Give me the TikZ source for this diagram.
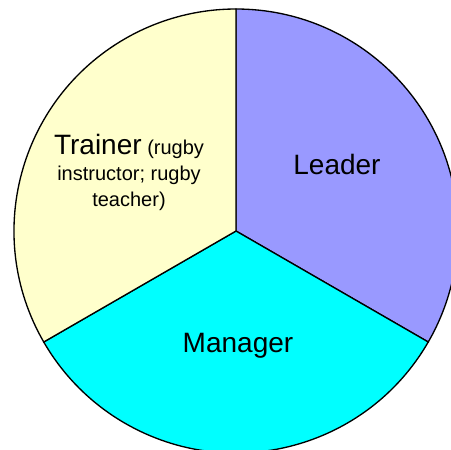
\documentclass[tikz,border=0pt]{standalone}
\usepackage{fontspec}
\setmainfont{Liberation Sans}
\usepackage{tikz}
\tikzset{every picture/.style={line width=0.75pt}}
\tikzset{
  slice/.style={draw=black, line width=1pt},
  biglabel/.style={inner sep=0.75pt, font=\fontsize{21}{25}\selectfont},
  smalllabel/.style={inner sep=0.75pt, align=center, font=\fontsize{15}{19.5}\selectfont}
}
\definecolor{leaderblue}{RGB}{153,153,255}
\definecolor{managercyan}{RGB}{0,255,255}
\definecolor{traineryellow}{RGB}{255,255,204}

\begin{document}
\begin{tikzpicture}[x=0.75pt,y={(0,-0.75pt)}]
\useasboundingbox (0,0) rectangle (451,450);
\coordinate (centre) at (236,231);

%Shape: Sector leader
\filldraw [slice, fill=leaderblue] (centre) -- ++(-90:222) arc (-90:30:222) -- cycle ;
%Shape: Sector manager
\filldraw [slice, fill=managercyan] (centre) -- ++(30:222) arc (30:150:222) -- cycle ;
%Shape: Sector trainer
\filldraw [slice, fill=traineryellow] (centre) -- ++(150:222) arc (150:270:222) -- cycle ;

% Text Node
\node [biglabel] (leader) at (337,164) {Leader};
% Text Node
\node [biglabel] (manager) at (238,346) {Manager};
% Text Node
\node [smalllabel] (trainer) at (129,172) {{\fontsize{21}{25}\selectfont Trainer} (rugby\\instructor; rugby\\teacher)};

\end{tikzpicture}
\end{document}
